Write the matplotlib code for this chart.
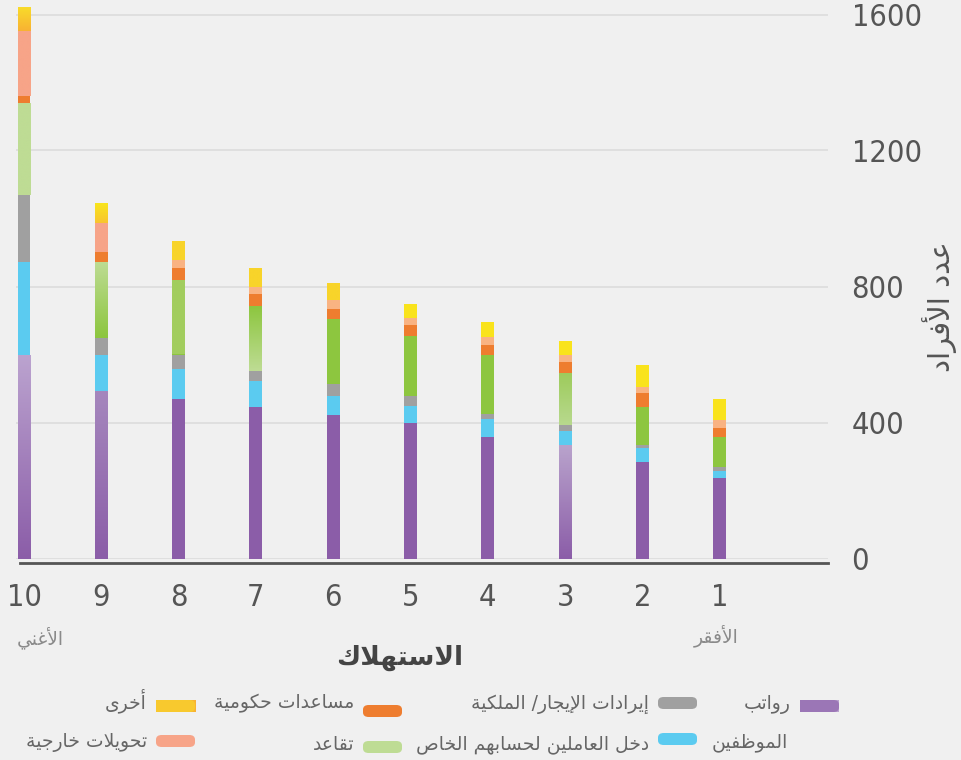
import numpy as np
import matplotlib
matplotlib.use("Agg")
import matplotlib.pyplot as plt
from matplotlib.colors import LinearSegmentedColormap
from matplotlib.patches import FancyBboxPatch

# --- simple Arabic shaping (presentation forms, visual order) ---
DUAL = {'ب': 0xFE8F, 'ت': 0xFE95, 'ث': 0xFE99, 'ج': 0xFE9D, 'ح': 0xFEA1, 'خ': 0xFEA5,
        'س': 0xFEB1, 'ش': 0xFEB5, 'ص': 0xFEB9, 'ض': 0xFEBD, 'ط': 0xFEC1, 'ظ': 0xFEC5,
        'ع': 0xFEC9, 'غ': 0xFECD, 'ف': 0xFED1, 'ق': 0xFED5, 'ك': 0xFED9, 'ل': 0xFEDD,
        'م': 0xFEE1, 'ن': 0xFEE5, 'ه': 0xFEE9, 'ي': 0xFEF1}
RIGHT = {'ا': 0xFE8D, 'أ': 0xFE83, 'إ': 0xFE87, 'آ': 0xFE81, 'د': 0xFEA9, 'ذ': 0xFEAB,
         'ر': 0xFEAD, 'ز': 0xFEAF, 'و': 0xFEED, 'ة': 0xFE93, 'ى': 0xFEEF}
LAMALEF = {'ا': 0xFEFB, 'أ': 0xFEF7, 'إ': 0xFEF9, 'آ': 0xFEF5}


def ar(s):
    units = []
    i = 0
    while i < len(s):
        if s[i] == 'ل' and i + 1 < len(s) and s[i + 1] in LAMALEF:
            units.append(('LA', s[i + 1]))
            i += 2
        else:
            units.append((s[i], None))
            i += 1

    def kind(u):
        if u[0] == 'LA' or u[0] in RIGHT:
            return 'R'
        if u[0] in DUAL:
            return 'D'
        return None

    out = []
    for j, u in enumerate(units):
        k = kind(u)
        if k is None:
            out.append(u[0])
            continue
        prev = kind(units[j - 1]) if j > 0 else None
        nxt = kind(units[j + 1]) if j + 1 < len(units) else None
        jp = prev == 'D'
        jn = k == 'D' and nxt is not None
        if u[0] == 'LA':
            base = LAMALEF[u[1]]
        elif k == 'D':
            base = DUAL[u[0]]
        else:
            base = RIGHT[u[0]]
        off = 3 if (jp and jn) else 1 if jp else 2 if jn else 0
        out.append(chr(base + off))
    return ''.join(reversed(out))


# --- data (deciles, richest on the left) ---
deciles = ['10', '9', '8', '7', '6', '5', '4', '3', '2', '1']
salaries = [598, 494, 470, 445, 422, 398, 357, 335, 285, 236]
self_employed = [273, 106, 87, 78, 56, 52, 54, 41, 39, 22]
rent = [197, 50, 43, 28, 34, 28, 13, 16, 11, 10]
retirement = [273, 221, 220, 191, 191, 176, 176, 155, 112, 88]
gov_aid = [20, 31, 35, 35, 31, 34, 29, 30, 40, 28]
transfers = [190, 84, 22, 22, 25, 20, 22, 21, 16, 23]
other = [72, 60, 56, 56, 52, 41, 46, 42, 66, 63]
yticks = [0, 400, 800, 1200, 1600]

series = [salaries, self_employed, rent, retirement, gov_aid, transfers, other]
colors = ['#8B5DA8', '#5BCBF0', '#A0A0A0', '#8DC63F', '#EE7D2F', '#F9B382', '#F9E31C']

# per-bar colour tweaks: (series, bar) -> (top colour, bottom colour)
grads = {
    (0, 0): ('#BBA3CF', '#8B5DA8'), (0, 1): ('#A587BD', '#8B5DA8'),
    (0, 7): ('#B9A3CC', '#8B5DA8'),
    (3, 0): ('#BEDC94', '#BEDC94'), (3, 1): ('#BEDC94', '#8DC63F'),
    (3, 2): ('#A2CD5E', '#A2CD5E'), (3, 3): ('#8DC63F', '#BEDC94'),
    (3, 7): ('#9DCB5B', '#B8D98E'),
    (5, 0): ('#F7A488', '#F7A488'), (5, 1): ('#F7A488', '#F7A488'),
    (6, 0): ('#F8DD2A', '#F9B233'), (6, 1): ('#F9E71B', '#F8C42F'),
    (6, 2): ('#F8D42A', '#F8D42A'), (6, 3): ('#F8D42A', '#F8D42A'),
    (6, 4): ('#F8D42A', '#F8D42A'),
}

W, H = 961, 760
fig = plt.figure(figsize=(W / 100, H / 100), dpi=100, facecolor='#F0F0F0')
ax = fig.add_axes([16 / W, 1 - 558.5 / H, 812 / W, 557.6 / H])
ax.set_facecolor('#F0F0F0')

x = np.arange(len(deciles))
bottom = np.zeros(len(deciles))
for si, vals in enumerate(series):
    bars = ax.bar(x, vals, 0.168, bottom=bottom, color=colors[si], zorder=3, linewidth=0)
    for bi, rect in enumerate(bars):
        if (si, bi) in grads:
            top_c, bot_c = grads[(si, bi)]
            cmap = LinearSegmentedColormap.from_list('g', [bot_c, top_c])
            rx, ry = rect.get_x(), rect.get_y()
            im = ax.imshow(np.linspace(0, 1, 128).reshape(-1, 1), cmap=cmap, origin='lower',
                           extent=[rx, rx + rect.get_width(), ry, ry + rect.get_height()],
                           aspect='auto', zorder=3.5, interpolation='bilinear')
            im.set_clip_path(rect)
    bottom += np.array(vals)

ax.set_xlim(-0.1035, 10.40)
ax.set_ylim(0, 1640)
ax.set_yticks(yticks)
ax.yaxis.tick_right()
ax.grid(axis='y', color='#DCDCDC', linewidth=1.2, zorder=0)
for s in ['top', 'left', 'right']:
    ax.spines[s].set_visible(False)
ax.spines['bottom'].set_color('#555555')
ax.spines['bottom'].set_linewidth(2)
ax.spines['bottom'].set_position(('outward', 3))
ax.spines['bottom'].set_bounds(-0.05, 10.40)

ax.set_xticks(x)
ax.set_xticklabels(deciles)
ax.tick_params(axis='x', length=0, pad=15, labelsize=22, labelcolor='#555555')
ax.tick_params(axis='y', length=0, pad=17, labelsize=22, labelcolor='#555555')
for t in ax.get_xticklabels() + ax.get_yticklabels():
    t.set_family('DejaVu Sans')
    t.set_fontstretch('condensed')
    t.set_fontweight('light')

ar_font = 'DejaVu Sans'
fig.text(40 / W, 1 - 638 / H, ar('الأغني'), ha='center', va='center', fontsize=13.5,
         color='#8A8A8A', family=ar_font)
fig.text(716 / W, 1 - 636 / H, ar('الأفقر'), ha='center', va='center', fontsize=13.5,
         color='#8A8A8A', family=ar_font)
fig.text(400 / W, 1 - 658 / H, ar('الاستهلاك'), ha='center', va='center', fontsize=19,
         color='#444444', family=ar_font, fontweight='bold')
fig.text(940 / W, 1 - 307 / H, ar('عدد الأفراد'), ha='center', va='center', fontsize=21,
         color='#555555', family=ar_font, rotation=90)

# legend, drawn right to left
legend_items = [
    ('رواتب', ['#9B76B6', '#BBA3CF'], 800, 706, 705),
    ('إيرادات الإيجار/ الملكية', ['#A0A0A0'], 658, 703, 704),
    ('مساعدات حكومية', ['#EE7D2F'], 363, 711, 703),
    ('أخرى', ['#F8C92E', '#F9B233'], 156, 706, 701),
    ('دخل العاملين لحسابهم الخاص', ['#5BCBF0'], 658, 739, 744),
    ('تقاعد', ['#BEDC94'], 363, 747, 745),
    ('تحويلات خارجية', ['#F7A488'], 156, 741, 743),
]
for label, cols, sx, sy, ty in legend_items:
    sw = FancyBboxPatch((sx / W, 1 - (sy + 6) / H), 39 / W, 12 / H,
                        boxstyle='round,pad=0,rounding_size=0.006',
                        transform=fig.transFigure, facecolor=cols[0], edgecolor='none')
    fig.patches.append(sw)
    if len(cols) > 1:
        gx = np.linspace(0, 1, 64).reshape(1, -1)
        gax = fig.add_axes([sx / W, 1 - (sy + 6) / H, 39 / W, 12 / H])
        gax.imshow(gx, cmap=LinearSegmentedColormap.from_list('l', cols), aspect='auto')
        gax.axis('off')
    fig.text((sx - 9) / W, 1 - ty / H, ar(label), ha='right', va='center', fontsize=13.5,
             color='#666666', family=ar_font)
fig.text(788 / W, 1 - 743 / H, ar('الموظفين'), ha='right', va='center', fontsize=13.5,
         color='#666666', family=ar_font)

fig.savefig('out.png', dpi=100, facecolor=fig.get_facecolor())
